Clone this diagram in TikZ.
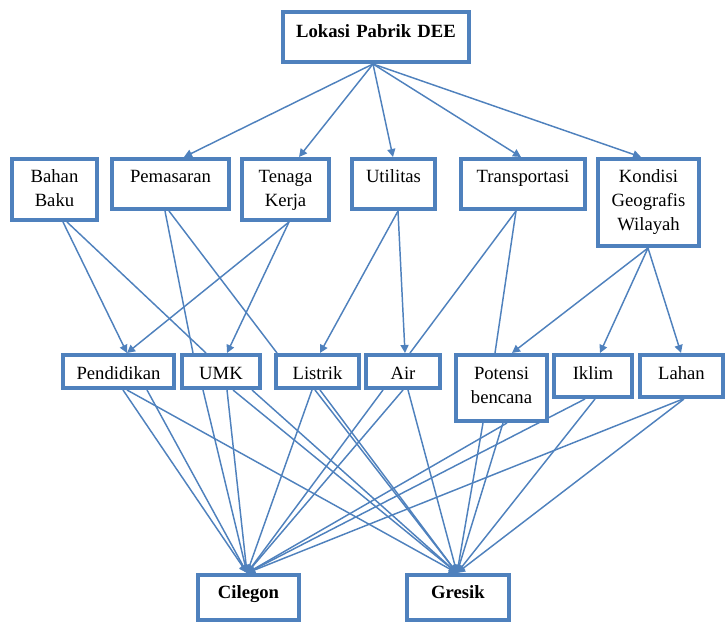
\documentclass[tikz,border=0pt]{standalone}
\usepackage{fontspec}
\setmainfont{Liberation Serif}
\usetikzlibrary{calc,arrows.meta}
\definecolor{blu}{HTML}{4F81BD}
\tikzset{
  bx/.style={draw=blu, line width=3pt, outer sep=1.5pt, fill=white,
    inner xsep=0pt, inner ysep=0pt, anchor=north west, align=center,
    font=\fontsize{14}{18}\selectfont},
  wire/.style={draw=blu, line width=1.1pt},
  arr/.style={wire, -{Triangle[length=6pt,width=6pt]}}
}
\begin{document}
\begin{tikzpicture}[x=0.75pt,y=-0.75pt]
\useasboundingbox (0,0) rectangle (726,624);
% row 1
\node[bx, text width=139.5pt, text height=19.5pt, text depth=18pt] (lok) at (281,10) {\bfseries Lokasi Pabrik DEE};
% row 2
\node[bx, text width=63.75pt, text height=18pt, text depth=27.75pt] (bah) at (10,157) {Bahan\\Baku};
\node[bx, text width=87.75pt, text height=18pt, text depth=19.5pt] (pem) at (110,157) {Pemasaran};
\node[bx, text width=65.25pt, text height=18pt, text depth=27.75pt] (ten) at (240,157) {Tenaga\\Kerja};
\node[bx, text width=62.25pt, text height=18pt, text depth=19.5pt] (uti) at (350,157) {Utilitas};
\node[bx, text width=93pt, text height=18pt, text depth=19.5pt] (tra) at (459,157) {Transportasi};
\node[bx, text width=75.75pt, text height=18pt, text depth=47.25pt] (kon) at (596,157) {Kondisi\\Geografis\\Wilayah};
% row 3
\node[bx, text width=83.25pt, text height=18.75pt, text depth=6pt] (pen) at (61,353) {Pendidikan};
\node[bx, text width=58.5pt, text height=18.75pt, text depth=6pt] (umk) at (180,353) {UMK};
\node[bx, text width=62.25pt, text height=18.75pt, text depth=6pt] (lis) at (274,353) {Listrik};
\node[bx, text width=55.5pt, text height=18.75pt, text depth=6pt] (air) at (364,353) {Air};
\node[bx, text width=68.25pt, text height=18.75pt, text depth=30.75pt] (pot) at (454,353) {Potensi\\bencana};
\node[bx, text width=58.5pt, text height=18.75pt, text depth=12.75pt] (ikl) at (552,353) {Iklim};
\node[bx, text width=62.25pt, text height=18.75pt, text depth=12.75pt] (lah) at (638,353) {Lahan};
% row 4
\node[bx, text width=75.75pt, text height=18pt, text depth=15.75pt] (cil) at (196,573) {\bfseries Cilegon};
\node[bx, text width=76.5pt, text height=18pt, text depth=15.75pt] (gre) at (405,573) {\bfseries Gresik};

% row 1 -> row 2
\coordinate (o) at ($(lok.south west)+(92,0)$);
\draw[arr] (o) -- ($(pem.north west)+(74,0)$);
\draw[arr] (o) -- ($(ten.north west)+(59,0)$);
\draw[arr] (o) -- ($(uti.north west)+(43,0)$);
\draw[arr] (o) -- ($(tra.north west)+(62,0)$);
\draw[arr] (o) -- ($(kon.north west)+(45,0)$);

% row 2 -> row 3
\draw[arr]  ($(bah.south west)+(53,0)$) -- ($(pen.north west)+(66,0)$);
\draw[wire] ($(bah.south west)+(57,0)$) -- ($(umk.north west)+(26,0)$);
\draw[wire] ($(pem.south west)+(55,0)$) -- ($(umk.north west)+(13,0)$);
\draw[wire] ($(pem.south west)+(59,0)$) -- ($(lis.north west)+(3,0)$);
\draw[arr]  ($(ten.south west)+(49,0)$) -- ($(pen.north west)+(66,0)$);
\draw[arr]  ($(ten.south west)+(49,0)$) -- ($(umk.north west)+(47,0)$);
\draw[arr]  ($(uti.south west)+(48,0)$) -- ($(lis.north west)+(46,0)$);
\draw[arr]  ($(uti.south west)+(48,0)$) -- ($(air.north west)+(41,0)$);
\draw[wire] ($(tra.south west)+(57,0)$) -- ($(air.north west)+(46,0)$);
\draw[wire] ($(tra.south west)+(57,0)$) -- ($(pot.north west)+(41,0)$);
\draw[arr]  ($(kon.south west)+(52,0)$) -- ($(pot.north west)+(58,0)$);
\draw[arr]  ($(kon.south west)+(52,0)$) -- ($(ikl.north west)+(48,0)$);
\draw[arr]  ($(kon.south west)+(52,0)$) -- ($(lah.north west)+(43,0)$);

% row 3 -> row 4
\coordinate (c) at ($(cil.north west)+(51,0)$);
\coordinate (g) at ($(gre.north west)+(52,0)$);
\draw[arr] ($(pen.south west)+(62,0)$) -- (c);
\draw[arr] ($(pen.south west)+(86,0)$) -- (c);
\draw[arr] ($(pen.south west)+(66,0)$) -- (g);
\draw[arr] ($(umk.south west)+(23,0)$) -- (c);
\draw[arr] ($(umk.south west)+(47,0)$) -- (c);
\draw[arr] ($(umk.south west)+(53,0)$) -- (g);
\draw[arr] ($(umk.south west)+(72,0)$) -- (g);
\draw[arr] ($(lis.south west)+(38,0)$) -- (c);
\draw[arr] ($(lis.south west)+(41,0)$) -- (g);
\draw[arr] ($(lis.south west)+(46,0)$) -- (g);
\draw[arr] ($(air.south west)+(19,0)$) -- (c);
\draw[arr] ($(air.south west)+(39,0)$) -- (c);
\draw[arr] ($(air.south west)+(44,0)$) -- (g);
\draw[arr] ($(pot.south west)+(29,0)$) -- (g);
\draw[arr] ($(pot.south west)+(49,0)$) -- (g);
\draw[arr] ($(pot.south west)+(53,0)$) -- (c);
\draw[arr] ($(ikl.south west)+(33,0)$) -- (c);
\draw[arr] ($(ikl.south west)+(43,0)$) -- (g);
\draw[arr] ($(lah.south west)+(45,0)$) -- (c);
\draw[arr] ($(lah.south west)+(46,0)$) -- (g);
\end{tikzpicture}
\end{document}
